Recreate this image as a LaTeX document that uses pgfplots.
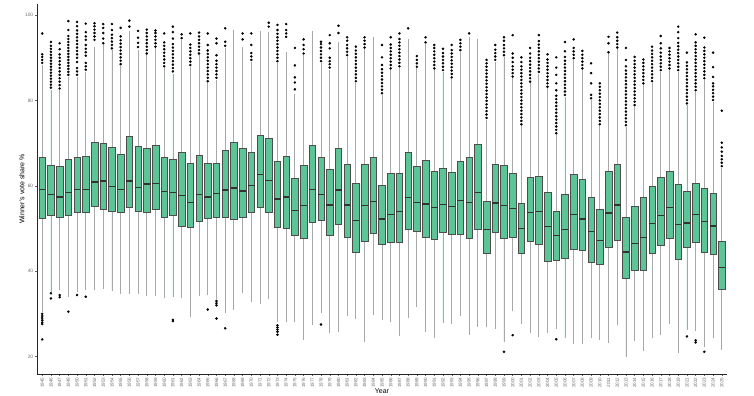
\documentclass[border=0pt]{standalone}
\usepackage{pgfplots}
\pgfplotsset{compat=1.18}
\usepackage{pgfplotstable}
\usepgfplotslibrary{statistics}
\usepackage{fontspec}
\setmainfont{Liberation Sans}
\definecolor{boxfill}{HTML}{5BC595}
\definecolor{boxedge}{HTML}{4D4D4D}
\definecolor{whisk}{HTML}{A8A8A8}
\definecolor{ticktxt}{HTML}{6E6E6E}

\pgfplotstableread{
pos lw q1 med q3 uw
0 30.5 52.3 59.1 66.6 88.3
1 35.1 53.0 58.0 64.9 82.4
2 35.5 52.7 57.4 64.6 82.4
3 34.0 53.0 58.4 66.2 85.5
4 35.0 53.7 59.1 66.7 85.5
5 35.5 53.9 59.1 66.9 86.7
6 35.7 55.3 60.9 70.3 92.6
7 35.9 54.5 61.1 69.9 93.0
8 35.4 54.1 59.8 69.1 91.8
9 34.6 53.7 59.2 67.5 88.0
10 34.6 54.9 61.1 71.6 96.3
11 34.6 54.1 59.6 69.3 91.8
12 34.1 53.9 60.4 68.75 90.6
13 34.1 54.4 60.6 69.6 92.2
14 33.6 52.7 58.6 66.6 87.5
15 34.0 53.0 58.4 66.25 86.3
16 33.6 50.6 57.8 67.9 94.1
17 29.3 50.2 56.1 65.2 87.9
18 34.1 51.7 58.0 67.2 90.6
19 34.4 52.3 57.4 65.4 84.0
20 33.4 52.6 58.2 65.4 84.8
21 30.2 52.7 59.0 68.4 92.2
22 31.0 52.1 59.5 70.3 96.6
23 34.8 52.7 58.75 68.9 92.6
24 32.8 53.7 60.1 67.8 89.1
25 32.4 54.9 62.7 71.9 96.3
26 33.4 53.7 61.3 71.1 96.0
27 28.1 50.4 56.9 65.8 88.7
28 28.1 50.0 57.4 67.0 91.4
29 28.1 48.3 54.2 61.8 81.6
30 23.8 47.6 55.4 64.8 90.6
31 27.3 51.4 59.1 69.6 96.3
32 30.2 52.0 58.0 66.6 88.7
33 25.6 48.4 55.5 63.8 87.1
34 25.8 51.0 59.0 68.9 93.75
35 29.4 48.0 55.5 65.0 90.2
36 28.7 44.5 51.8 60.5 84.0
37 23.4 47.0 55.4 65.1 92.0
38 29.7 48.8 56.4 66.8 94.9
39 28.5 46.2 52.2 60.2 81.25
40 28.0 46.7 53.3 62.9 87.1
41 24.8 46.7 53.9 63.0 87.5
42 29.1 49.8 57.2 67.8 94.3
43 31.6 49.3 56.1 64.5 87.5
44 25.8 47.9 55.7 66.0 93.2
45 24.4 47.5 54.9 63.3 87.1
46 27.9 49.1 55.6 64.1 86.7
47 27.6 48.6 55.2 63.1 85.0
48 29.4 48.7 56.5 65.7 91.4
49 25.1 47.8 56.1 66.8 94.9
50 26.9 49.8 58.4 69.7 94.3
51 26.9 44.1 49.8 56.3 75.5
52 26.5 49.0 56.0 65.0 89.1
53 23.4 47.8 55.4 64.8 90.2
54 30.6 48.0 54.6 62.9 85.2
55 27.7 44.1 50.0 56.0 74.0
56 25.4 47.1 53.7 62.0 84.0
57 24.6 46.4 54.0 62.3 86.3
58 25.5 42.3 50.4 58.4 82.8
59 26.5 42.6 48.3 54.1 71.9
60 24.4 43.1 49.8 58.0 80.9
61 22.9 45.1 53.3 62.7 89.5
62 23.0 44.8 52.2 61.6 87.1
63 24.4 42.1 49.3 57.2 80.1
64 23.8 41.6 47.2 54.4 74.0
65 23.2 45.5 53.6 63.5 91.4
66 27.3 47.3 55.5 65.1 92.0
67 19.9 38.4 44.5 52.6 73.8
68 23.7 40.1 46.4 55.2 78.5
69 21.3 40.1 47.9 57.3 83.6
70 24.4 44.1 51.2 60.0 84.1
71 25.0 46.0 53.1 62.0 86.7
72 27.6 47.8 54.9 63.4 87.1
73 20.9 42.9 50.9 60.3 86.7
74 26.3 45.5 51.3 58.75 78.9
75 26.0 46.7 53.2 60.6 82.0
76 22.3 44.4 51.7 59.4 84.8
77 24.4 44.0 50.6 58.2 79.7
78 21.6 35.8 40.8 47.1 64.1
}\boxdata

\begin{document}
\begin{tikzpicture}
\useasboundingbox (-37bp,-22bp) rectangle (717bp,374bp);
\begin{axis}[
  scale only axis, width=690bp, height=370bp,
  at={(0,0)}, anchor=south west,
  xmin=-0.6, xmax=78.6, ymin=15.9, ymax=102.6,
  axis x line*=bottom, axis y line*=left,
  axis line style={black!85, line width=0.5bp},
  tick align=outside, major tick length=2.2bp,
  every tick/.style={black!60, line width=0.4bp},
  ytick={20,40,60,80,100},
  xtick={0,...,78},
  xticklabels={1945,1946,1947,1949,1950,1951,1952,1953,1954,1955,1956,1957,1958,1959,1960,1961,1962,1963,1964,1965,1966,1967,1968,1969,1970,1971,1972,1973,1974,1975,1976,1977,1978,1979,1980,1981,1982,1983,1984,1985,1986,1987,1988,1989,1990,1991,1992,1993,1994,1995,1996,1997,1998,1999,2000,2001,2002,2003,2004,2005,2006,2007,2008,2009,2010,2011,2012,2013,2014,2015,2016,2017,2018,2019,2021,2022,2023,2024,2025},
  xticklabel style={rotate=90, anchor=east, font=\fontsize{4.6}{5}\selectfont, text=ticktxt, inner sep=1.2bp},
  yticklabel style={font=\fontsize{4.8}{5}\selectfont, text=ticktxt, inner sep=1.5bp},
  /pgf/number format/assume math mode=true,
  xlabel={Year}, ylabel={Winner's vote share \%},
  xlabel style={at={(axis description cs:0.5,0)}, anchor=center, yshift=-17bp, font=\fontsize{7}{8}\selectfont},
  ylabel style={at={(axis description cs:0,0.5)}, anchor=center, yshift=15bp, font=\fontsize{7}{8}\selectfont},
  boxplot/draw direction=y,
  boxplot/every whisker/.style={draw=whisk, line width=0.8bp},
  boxplot/every median/.style={draw=black!80, line width=1.3bp},
  boxplot/every box/.style={draw=boxedge, fill=boxfill, line width=0.5bp},
  clip=false,
]
\pgfplotsinvokeforeach{0,...,78}{
  \pgfplotstablegetelem{#1}{lw}\of\boxdata \edef\vlw{\pgfplotsretval}
  \pgfplotstablegetelem{#1}{q1}\of\boxdata \edef\vqa{\pgfplotsretval}
  \pgfplotstablegetelem{#1}{med}\of\boxdata \edef\vmd{\pgfplotsretval}
  \pgfplotstablegetelem{#1}{q3}\of\boxdata \edef\vqc{\pgfplotsretval}
  \pgfplotstablegetelem{#1}{uw}\of\boxdata \edef\vuw{\pgfplotsretval}
  \edef\temp{\noexpand\addplot[boxplot prepared={draw position=#1, lower whisker=\vlw, lower quartile=\vqa, median=\vmd, upper quartile=\vqc, upper whisker=\vuw, box extend=0.75, whisker extend=0}, draw=boxedge, fill=boxfill] coordinates {};}
  \temp
}
\addplot[only marks, mark=*, mark size=1.05bp, black, mark options={draw=black, fill=black}] coordinates {
(0,88.8)(0,89.5)(0,90.2)(0,90.8)(0,95.7)(0,30.0)(0,29.5)(0,29.0)(0,28.5)(0,28.0)(0,27.6)(0,24.0)
(1,83.0)(1,83.7)(1,84.4)(1,85.1)(1,85.8)(1,86.5)(1,87.2)(1,87.9)(1,88.6)(1,89.3)(1,90.0)(1,90.7)(1,91.4)(1,92.1)(1,92.8)(1,93.7)(1,34.8)(1,33.6)
(2,82.8)(2,83.6)(2,84.4)(2,85.2)(2,86.0)(2,86.8)(2,87.6)(2,88.4)(2,89.2)(2,90.0)(2,90.8)(2,92.0)(2,93.4)(2,34.4)(2,33.9)
(3,86.0)(3,86.7)(3,87.4)(3,88.1)(3,88.8)(3,89.5)(3,90.2)(3,90.9)(3,91.6)(3,92.3)(3,93.0)(3,93.7)(3,94.4)(3,95.1)(3,96.5)(3,98.6)(3,30.5)
(4,86.0)(4,86.8)(4,87.6)(4,89.0)(4,90.0)(4,90.8)(4,91.6)(4,92.4)(4,93.2)(4,94.0)(4,94.8)(4,95.6)(4,96.4)(4,97.4)(4,98.4)(4,34.4)
(5,87.2)(5,88.0)(5,88.8)(5,90.5)(5,91.3)(5,92.1)(5,93.0)(5,94.2)(5,95.0)(5,96.0)(5,98.0)(5,34.0)
(6,94.2)(6,95.0)(6,95.8)(6,96.6)(6,97.4)(6,98.1)
(7,93.4)(7,94.5)(7,95.8)(7,97.0)(7,97.9)
(8,92.2)(8,93.0)(8,93.8)(8,94.6)(8,95.4)(8,96.5)(8,97.9)
(9,88.5)(9,89.3)(9,90.1)(9,90.9)(9,91.7)(9,92.5)(9,93.3)(9,94.1)(9,95.0)(9,97.0)
(10,98.7)(10,97.3)
(11,92.5)(11,93.5)(11,94.7)(11,96.3)
(12,91.0)(12,91.8)(12,92.6)(12,93.4)(12,94.2)(12,95.0)(12,95.8)(12,96.6)
(13,92.6)(13,93.4)(13,94.2)(13,95.0)(13,95.8)(13,96.4)
(14,88.0)(14,88.8)(14,89.6)(14,90.4)(14,91.2)(14,92.0)(14,92.8)(14,93.6)(14,95.7)
(15,86.8)(15,87.6)(15,88.4)(15,89.2)(15,90.0)(15,90.8)(15,91.6)(15,92.4)(15,93.2)(15,94.5)(15,96.0)(15,97.3)(15,28.6)(15,28.3)
(16,94.6)(16,95.5)
(17,88.3)(17,89.1)(17,89.9)(17,90.7)(17,91.5)(17,92.3)(17,93.1)(17,95.7)
(18,91.0)(18,91.8)(18,92.6)(18,93.4)(18,94.2)(18,95.0)(18,95.9)
(19,84.5)(19,85.3)(19,86.1)(19,86.9)(19,87.7)(19,88.5)(19,89.3)(19,90.1)(19,90.9)(19,91.7)(19,93.0)(19,95.7)(19,31.0)
(20,85.3)(20,86.1)(20,86.9)(20,87.7)(20,88.5)(20,89.3)(20,90.6)(20,93.4)(20,94.5)(20,33.0)(20,32.5)(20,32.0)(20,28.9)
(21,96.9)(21,93.75)(21,92.8)(21,26.6)
(23,94.3)(23,95.7)
(24,89.5)(24,90.3)(24,91.1)(24,93.0)(24,95.7)
(26,97.3)(26,98.2)
(27,89.2)(27,90.0)(27,90.8)(27,91.6)(27,92.4)(27,93.2)(27,94.0)(27,94.8)(27,95.6)(27,96.5)(27,97.7)(27,27.3)(27,26.8)(27,26.3)(27,25.8)(27,25.1)
(28,94.9)(28,95.7)(28,96.5)(28,97.9)
(29,92.3)(29,88.2)(29,85.4)(29,84.2)(29,82.6)
(30,91.0)(30,92.0)(30,93.0)(30,94.3)
(32,89.2)(32,90.0)(32,90.8)(32,91.6)(32,92.4)(32,93.2)(32,93.75)(32,27.5)
(33,95.3)(33,93.4)(33,92.2)(33,90.0)(33,89.2)(33,88.5)(33,87.7)
(34,97.5)(34,95.8)
(35,90.6)(35,91.4)(35,92.2)(35,93.0)(35,94.0)(35,94.8)
(36,84.5)(36,85.3)(36,86.1)(36,86.9)(36,87.7)(36,88.5)(36,89.3)(36,90.1)(36,90.9)(36,91.7)(36,92.6)
(37,92.4)(37,93.2)(37,94.0)(37,94.8)
(39,81.7)(39,82.5)(39,83.3)(39,84.1)(39,84.9)(39,85.7)(39,86.5)(39,87.3)(39,88.3)(39,90.1)(39,93.0)
(40,87.5)(40,88.3)(40,89.1)(40,89.9)(40,90.7)(40,91.5)(40,92.3)(40,93.1)(40,94.8)
(41,88.0)(41,88.8)(41,89.6)(41,90.4)(41,91.2)(41,92.0)(41,92.8)(41,93.6)(41,94.4)(41,95.7)
(42,96.9)
(43,87.9)(43,88.7)(43,89.5)(43,90.4)
(44,93.6)(44,94.8)
(45,87.5)(45,88.3)(45,89.1)(45,89.9)(45,90.7)(45,91.5)(45,92.3)(45,93.0)
(46,87.1)(46,87.9)(46,88.7)(46,89.5)(46,90.3)(46,91.1)(46,92.1)
(47,85.4)(47,86.2)(47,87.0)(47,87.8)(47,88.6)(47,89.4)(47,90.2)(47,91.0)(47,91.8)(47,93.0)
(48,91.8)(48,92.6)(48,93.4)(48,94.2)
(49,95.7)
(51,75.9)(51,76.7)(51,77.5)(51,78.3)(51,79.1)(51,79.9)(51,80.7)(51,81.5)(51,82.3)(51,83.1)(51,83.9)(51,84.7)(51,85.5)(51,86.3)(51,87.1)(51,87.9)(51,88.7)(51,89.5)
(52,89.5)(52,90.3)(52,91.1)(52,91.9)(52,93.0)
(53,90.6)(53,91.4)(53,92.2)(53,93.0)(53,94.0)(53,94.8)(53,21.1)
(54,85.6)(54,86.4)(54,87.2)(54,88.0)(54,89.0)(54,90.0)(54,91.0)(54,95.3)(54,25.0)
(55,74.4)(55,75.2)(55,76.0)(55,76.8)(55,77.6)(55,78.4)(55,79.2)(55,80.0)(55,80.8)(55,81.6)(55,82.4)(55,83.2)(55,84.0)(55,84.8)(55,85.6)(55,86.4)(55,87.2)(55,88.0)(55,89.0)(55,90.1)
(56,84.4)(56,85.2)(56,86.0)(56,86.8)(56,87.6)(56,88.4)(56,89.2)(56,90.0)(56,91.0)(56,92.3)
(57,86.7)(57,87.5)(57,88.3)(57,89.1)(57,89.9)(57,90.7)(57,91.5)(57,92.3)(57,93.1)(57,93.9)(57,95.3)
(58,83.2)(58,84.0)(58,84.8)(58,85.6)(58,86.4)(58,87.2)(58,88.0)(58,88.8)(58,89.6)(58,90.8)
(59,72.3)(59,73.1)(59,73.9)(59,74.7)(59,75.5)(59,76.3)(59,77.1)(59,77.9)(59,78.7)(59,79.5)(59,80.3)(59,81.1)(59,82.4)(59,84.0)(59,86.0)(59,87.7)(59,90.1)(59,24.05)
(60,81.3)(60,82.1)(60,82.9)(60,83.7)(60,84.5)(60,85.3)(60,86.1)(60,86.9)(60,87.7)(60,88.5)(60,89.3)(60,90.2)(60,91.5)(60,93.7)
(61,89.9)(61,90.7)(61,91.5)(61,92.3)(61,94.3)
(62,87.5)(62,88.3)(62,89.1)(62,89.9)(62,90.7)(62,91.6)
(63,80.5)(63,81.3)(63,84.0)(63,86.4)(63,88.7)
(64,74.4)(64,75.2)(64,76.0)(64,76.8)(64,77.6)(64,78.4)(64,79.2)(64,80.0)(64,80.8)(64,81.6)(64,82.4)(64,83.2)(64,84.0)
(65,91.3)(65,93.4)(65,94.9)
(66,92.4)(66,93.2)(66,94.0)(66,94.8)(66,95.9)
(67,74.2)(67,75.0)(67,75.8)(67,76.6)(67,77.4)(67,78.2)(67,79.0)(67,79.8)(67,80.6)(67,81.4)(67,82.2)(67,83.0)(67,83.8)(67,84.6)(67,85.4)(67,86.2)(67,87.0)(67,88.0)(67,89.5)(67,92.3)
(68,78.9)(68,79.7)(68,80.5)(68,81.3)(68,82.1)(68,82.9)(68,83.7)(68,84.5)(68,85.3)(68,86.1)(68,86.9)(68,87.7)(68,88.5)(68,89.3)(68,90.2)
(69,84.0)(69,84.8)(69,85.6)(69,86.4)(69,87.2)(69,88.0)(69,88.8)(69,89.6)
(70,84.5)(70,85.3)(70,86.1)(70,86.9)(70,87.7)(70,88.5)(70,89.3)(70,90.1)(70,90.9)(70,91.7)(70,92.6)
(71,87.1)(71,87.9)(71,88.7)(71,89.5)(71,90.3)(71,91.2)(71,92.2)(71,93.4)(71,95.1)
(72,87.5)(72,88.3)(72,89.1)(72,89.9)(72,90.7)(72,91.5)(72,92.3)
(73,87.1)(73,87.9)(73,88.7)(73,89.5)(73,90.3)(73,91.1)(73,91.9)(73,92.7)(73,93.5)(73,94.6)(73,96.0)(73,97.3)
(74,79.3)(74,80.1)(74,80.9)(74,81.7)(74,82.5)(74,83.3)(74,84.1)(74,84.9)(74,85.7)(74,86.5)(74,87.3)(74,88.1)(74,88.9)(74,91.2)(74,24.7)
(75,82.4)(75,83.2)(75,84.0)(75,84.8)(75,85.6)(75,86.4)(75,87.2)(75,88.0)(75,88.8)(75,89.6)(75,90.4)(75,91.2)(75,92.0)(75,92.8)(75,93.6)(75,95.5)(75,23.8)(75,23.3)
(76,85.2)(76,86.0)(76,86.8)(76,87.6)(76,88.4)(76,89.2)(76,90.0)(76,90.8)(76,91.6)(76,92.4)(76,94.7)(76,21.1)
(77,80.1)(77,80.9)(77,81.7)(77,82.5)(77,83.3)(77,84.0)(77,85.5)(77,87.8)(77,91.2)
(78,77.6)(78,64.6)(78,65.4)(78,66.2)(78,67.0)(78,68.0)(78,69.0)(78,70.1)
};
\end{axis}
\end{tikzpicture}
\end{document}
